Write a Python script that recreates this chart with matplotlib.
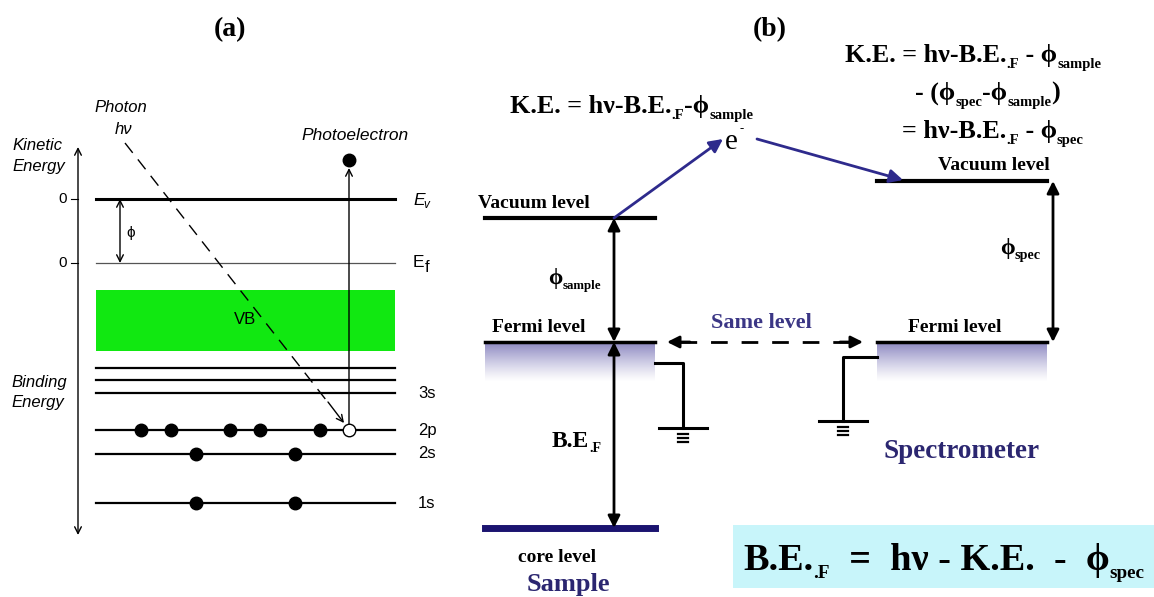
import numpy as np
import matplotlib.pyplot as plt
from matplotlib.patches import Rectangle

SANS = 'Liberation Sans'
SERIF = ['Liberation Serif', 'DejaVu Serif']
NAVY = '#2e2a8c'
LEVEL_X = (96, 395)

# --- panel (a): energy levels (pixel rows) ---
vacuum_y = 199
fermi_y = 263
vb_band = (290, 351)
valence_lines = [368, 380]
core_labels = ['3s', '2p', '2s', '1s']
core_y = [393, 430, 454, 503]
electrons = {'2p': [141, 171, 230, 260, 320], '2s': [196, 295], '1s': [196, 295]}
hole_x = 349

# --- panel (b) ---
sample_x = (485, 655)
spec_x = (877, 1047)
vac_sample_y, vac_spec_y = 218, 181
fermi_b_y = 342
core_level_y = 528

# formula pieces: plain strings, tuples are subscripts
ke_sample = ['K.E. = hν-B.E.', ('.F',), '-ϕ', ('sample',)]
ke_line1 = ['K.E. = hν-B.E.', ('.F',), ' - ϕ', ('sample',)]
ke_line2 = ['- (ϕ', ('spec',), '-ϕ', ('sample',), ')']
ke_line3 = ['= hν-B.E.', ('.F',), ' - ϕ', ('spec',)]
be_box = ['B.E.', ('.F',), '  =  hν - K.E.  -  ϕ', ('spec',)]

fig = plt.figure(figsize=(11.54, 5.97), dpi=100)
ax = fig.add_axes([0, 0, 1, 1])
ax.set_xlim(0, 1154)
ax.set_ylim(597, 0)
ax.axis('off')
renderer = fig.canvas.get_renderer()


def arrow(x0, y0, x1, y1, style='->', color='black', lw=1.0, ms=12):
    ax.annotate('', xy=(x1, y1), xytext=(x0, y0),
                arrowprops=dict(arrowstyle=style, color=color, lw=lw,
                                shrinkA=0, shrinkB=0, mutation_scale=ms))


def rich(x, y, runs, size, sub_scale=0.6, ha='left', **kw):
    # y is the baseline; subscripts drop below it
    arts = []
    for r in runs:
        sub = isinstance(r, tuple)
        s = r[0] if sub else r
        fs = size * sub_scale if sub else size
        dy = size * 1.389 * 0.22 if sub else 0
        s = s.replace(' ', '\u00a0')
        t = ax.text(0, y + dy, s, fontsize=fs, va='baseline', ha='left', **kw)
        arts.append((t, t.get_window_extent(renderer).width))
    total = sum(w for _, w in arts)
    cx = x - total / 2 if ha == 'center' else x
    for t, w in arts:
        t.set_x(cx)
        cx += w
    return total


# titles
ax.text(230, 30, '(a)', ha='center', va='center', fontsize=20, fontweight='bold', family=SERIF)
ax.text(770, 30, '(b)', ha='center', va='center', fontsize=20, fontweight='bold', family=SERIF)

# ===== panel (a) =====
arrow(78, 535, 78, 147, style='<->', lw=1.0, ms=12)
for y in [vacuum_y, fermi_y]:
    ax.plot([71, 78], [y, y], color='black', lw=0.8)
    ax.text(63, y, '0', ha='center', va='center', fontsize=11, family=SANS)
ax.text(12, 145, 'Kinetic', ha='left', va='center', fontsize=12, style='italic', family=SANS)
ax.text(12, 166, 'Energy', ha='left', va='center', fontsize=12, style='italic', family=SANS)
ax.text(11, 383, 'Binding', ha='left', va='center', fontsize=12, style='italic', family=SANS)
ax.text(11, 402, 'Energy', ha='left', va='center', fontsize=12, style='italic', family=SANS)

ax.plot(LEVEL_X, [vacuum_y] * 2, color='black', lw=2.2)
ax.plot(LEVEL_X, [fermi_y] * 2, color='#555555', lw=0.9)
ax.text(413, 205, 'E', ha='left', va='baseline', fontsize=12.5, style='italic', family=SANS)
ax.text(423, 208, 'v', ha='left', va='baseline', fontsize=8.5, style='italic', family=SANS)
ax.text(413, 267, 'E', ha='left', va='baseline', fontsize=12.5, family=SANS)
ax.text(425, 272, 'f', ha='left', va='baseline', fontsize=12, family=SANS)
arrow(120, vacuum_y, 120, fermi_y, style='<->', lw=1.0, ms=12)
ax.text(131, 233, 'ϕ', ha='center', va='center', fontsize=11, family=SANS)

ax.add_patch(Rectangle((LEVEL_X[0], vb_band[0]), LEVEL_X[1] - LEVEL_X[0],
                       vb_band[1] - vb_band[0], color='#11e811', lw=0))
ax.text(245, 320, 'VB', ha='center', va='center', fontsize=12, family=SANS)

for y in valence_lines:
    ax.plot(LEVEL_X, [y, y], color='black', lw=1.6)
for name, y in zip(core_labels, core_y):
    ax.plot(LEVEL_X, [y, y], color='black', lw=1.6)
    ax.text(418, y, name, ha='left', va='center', fontsize=12, family=SANS)
    if name in electrons:
        ax.plot(electrons[name], [y] * len(electrons[name]), 'o', color='black', ms=9)
ax.plot([hole_x], [core_y[1]], 'o', mfc='white', mec='black', ms=9, mew=1)

# photon
ax.text(121, 108, 'Photon', ha='center', va='center', fontsize=12, style='italic', family=SANS)
ax.text(124, 130, 'hν', ha='center', va='center', fontsize=12, style='italic', family=SANS)
ax.plot([125, 330], [143, 405], color='black', lw=1.0, dashes=(9, 6))
arrow(328, 402, 344, 423, style='->', lw=1.0, ms=12)

# photoelectron
arrow(hole_x, core_y[1] - 6, hole_x, 168, style='->', lw=1.0, ms=12)
ax.plot([hole_x], [160], 'o', color='black', ms=9)
ax.text(355, 136, 'Photoelectron', ha='center', va='center', fontsize=12.5, style='italic', family=SANS)

# ===== panel (b) =====
grad = np.zeros((60, 1, 4))
grad[:, 0, :3] = np.array([0.55, 0.53, 0.76])
grad[:, 0, 3] = np.linspace(1, 0, 60) ** 1.2
for xs in [sample_x, spec_x]:
    ax.imshow(grad, extent=[xs[0], xs[1], 382, fermi_b_y], aspect='auto',
              origin='upper', interpolation='bilinear', zorder=1)

ax.plot(sample_x, [vac_sample_y] * 2, color='black', lw=3)
ax.plot(spec_x, [vac_spec_y] * 2, color='black', lw=3)
ax.plot(sample_x, [fermi_b_y] * 2, color='black', lw=2.5, zorder=3)
ax.plot(spec_x, [fermi_b_y] * 2, color='black', lw=2.5, zorder=3)
ax.plot(sample_x, [core_level_y] * 2, color='#1b1470', lw=5)

bold = dict(fontweight='bold', family=SERIF)
ax.text(478, 203, 'Vacuum level', ha='left', va='center', fontsize=14, **bold)
ax.text(994, 166, 'Vacuum level', ha='center', va='center', fontsize=14, **bold)
ax.text(492, 328, 'Fermi level', ha='left', va='center', fontsize=14, **bold)
ax.text(955, 328, 'Fermi level', ha='center', va='center', fontsize=14, **bold)
ax.text(557, 558, 'core level', ha='center', va='center', fontsize=14, **bold)
ax.text(568, 584, 'Sample', ha='center', va='center', fontsize=19, color='#2b2670', **bold)
ax.text(962, 452, 'Spectrometer', ha='center', va='center', fontsize=19.5, color='#2b2670', **bold)
ax.text(761, 323, 'Same level', ha='center', va='center', fontsize=16, color='#3b3685', **bold)

# electron path
arrow(614, vac_sample_y, 723, 139, style='-|>', color=NAVY, lw=2, ms=20)
ax.text(725, 149, 'e', ha='left', va='baseline', fontsize=21, family=SERIF)
ax.text(740, 132, '-', ha='left', va='baseline', fontsize=9, family=SERIF)
arrow(757, 139, 903, 180, style='-|>', color=NAVY, lw=2, ms=20)

# work function / binding energy arrows
arrow(614, fermi_b_y, 614, vac_sample_y, style='<|-|>', lw=2, ms=18)
rich(548, 284, ['ϕ', ('sample',)], 16.5, sub_scale=0.56, **bold)
arrow(1053, vac_spec_y, 1053, fermi_b_y, style='<|-|>', lw=2, ms=18)
rich(1000, 254, ['ϕ', ('spec',)], 17, sub_scale=0.6, **bold)
arrow(614, fermi_b_y, 614, core_level_y, style='<|-|>', lw=2, ms=18)
rich(552, 447, ['B.E', ('.F',)], 17, sub_scale=0.6, **bold)

# same level dashed arrow
ax.plot([680, 850], [fermi_b_y, fermi_b_y], color='black', lw=2, dashes=(6, 5))
arrow(690, fermi_b_y, 667, fermi_b_y, style='-|>', lw=2, ms=18)
arrow(840, fermi_b_y, 863, fermi_b_y, style='-|>', lw=2, ms=18)


def ground(x, y_top, x_attach, y_attach, half=24):
    ax.plot([x_attach, x, x], [y_attach, y_attach, y_top], color='black', lw=2.2)
    ax.plot([x - half, x + half], [y_top, y_top], color='black', lw=2.2)
    for dy in [6, 10, 14]:
        ax.plot([x - 5, x + 5], [y_top + dy, y_top + dy], color='black', lw=1.6)


ground(683, 428, sample_x[1], 363)
ground(843, 421, spec_x[0], 357)

# formulas
rich(510, 113, ke_sample, 18.8, sub_scale=0.56, **bold)
rich(845, 62, ke_line1, 18.8, sub_scale=0.56, **bold)
rich(915, 100, ke_line2, 18.8, sub_scale=0.56, **bold)
rich(902, 138, ke_line3, 18.8, sub_scale=0.56, **bold)

ax.add_patch(Rectangle((733, 525), 421, 63, color='#c8f5fa', lw=0))
rich(743, 570, be_box, 27.5, sub_scale=0.5, **bold)

fig.savefig('out.png', dpi=100)
